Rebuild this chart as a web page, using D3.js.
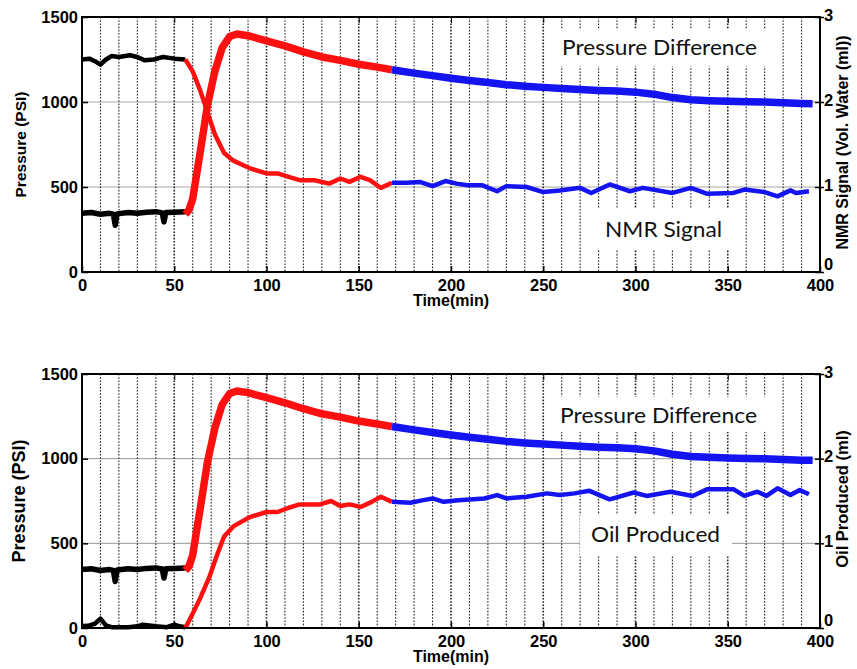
<!DOCTYPE html>
<html>
<head>
<meta charset="utf-8">
<script src="https://cdn.jsdelivr.net/npm/d3@7/dist/d3.min.js"></script>
<style>
    body { margin: 0; background: #fff; }
    svg { display: block; }
</style>
</head>
<body>
<div id="chart"></div>
<script>
// ---- data ----
// pressure difference (PSI, left axis) - same trace in both panels
const pressureBefore = [[0, 345], [5, 350], [10, 340], [15, 345], [17, 340], [18, 275], [19, 342], [25, 350], [30, 345],
    [35, 352], [40, 355], [43.5, 348], [44.4, 295], [45.5, 350], [50, 352], [56, 355]];
const pressureFlood = [[56, 340], [58, 365], [60, 430], [64, 700], [68, 980], [72, 1180], [76, 1320], [80, 1385],
    [84, 1400], [90, 1390], [100, 1360], [110, 1330], [120, 1295], [130, 1265], [140, 1245], [150, 1222],
    [160, 1205], [168, 1190]];
const pressureAfter = [[168, 1190], [180, 1170], [190, 1155], [200, 1140], [210, 1127], [220, 1115], [230, 1102],
    [240, 1093], [250, 1086], [260, 1080], [270, 1073], [280, 1068], [290, 1064], [300, 1058], [310, 1046],
    [320, 1026], [330, 1013], [340, 1008], [350, 1004], [360, 1001], [370, 1000], [380, 995], [390, 991], [396, 990]];

// NMR signal (vol. water, ml, right axis of top panel)
const nmrBefore = [[0, 2.50], [4, 2.51], [7, 2.48], [10, 2.44], [13, 2.50], [16, 2.54], [20, 2.53], [26, 2.55],
    [30, 2.53], [34, 2.49], [39, 2.50], [44, 2.53], [50, 2.51], [56, 2.50]];
const nmrFlood = [[56, 2.50], [60, 2.36], [64, 2.14], [68, 1.88], [72, 1.62], [77, 1.40], [82, 1.31], [91, 1.22],
    [100, 1.16], [106, 1.16], [112, 1.12], [118, 1.08], [126, 1.08], [134, 1.04], [140, 1.10], [145, 1.06],
    [151, 1.12], [156, 1.08], [162, 0.99], [168, 1.05]];
const nmrAfter = [[168, 1.05], [176, 1.05], [183, 1.06], [190, 1.01], [197, 1.07], [203, 1.04], [209, 1.02],
    [217, 1.02], [225, 0.95], [230, 1.01], [241, 1.00], [250, 0.94], [259, 0.96], [270, 0.99], [276, 0.93],
    [286, 1.03], [297, 0.95], [304, 0.99], [320, 0.93], [330, 0.99], [339, 0.92], [353, 0.93], [359, 0.97],
    [370, 0.94], [377, 0.89], [384, 0.96], [387, 0.93], [394, 0.95]];

// oil produced (ml, right axis of bottom panel)
const oilBefore = [[0, 0.02], [4, 0.03], [7, 0.05], [10, 0.11], [13, 0.03], [16, 0.01], [25, 0.01], [30, 0.02],
    [33, 0.04], [40, 0.02], [46, 0.01], [50, 0.04], [53, 0.02], [56, 0.01]];
const oilFlood = [[56, 0.0], [60, 0.17], [64, 0.35], [69, 0.60], [73, 0.85], [77, 1.08], [82, 1.20], [91, 1.31],
    [100, 1.37], [106, 1.37], [112, 1.42], [118, 1.46], [129, 1.46], [135, 1.50], [140, 1.44], [145, 1.46],
    [151, 1.43], [157, 1.49], [162, 1.55], [168, 1.49]];
const oilAfter = [[168, 1.49], [178, 1.48], [185, 1.51], [190, 1.53], [196, 1.49], [204, 1.51], [212, 1.52],
    [218, 1.53], [225, 1.57], [230, 1.53], [241, 1.55], [252, 1.59], [259, 1.57], [267, 1.59], [275, 1.62],
    [286, 1.52], [299, 1.60], [306, 1.56], [319, 1.61], [331, 1.56], [339, 1.64], [353, 1.64], [359, 1.56],
    [366, 1.61], [371, 1.56], [377, 1.65], [384, 1.57], [389, 1.63], [394, 1.58]];

const timeTicks = [0, 50, 100, 150, 200, 250, 300, 350, 400];
const pressureTicks = [0, 500, 1000, 1500];
const rightTicks = [0, 1, 2, 3];

// ---- layout ----
const width = 857, height = 669;
const plotLeft = 82, plotRight = 820;
const segmentColors = {before: "#000000", flood: "#ff1010", after: "#1414f0"};
const boldFont = "'Liberation Sans', Arial, Helvetica, sans-serif";
const noteFont = "Lato, 'Open Sans', sans-serif";

const svg = d3.select('#chart')
    .append('svg')
    .attr('width', width)
    .attr('height', height);

const xScale = d3.scaleLinear()
    .domain([0, 400])
    .range([plotLeft, plotRight]);

const panels = [
    {
        top: 17, bottom: 272,
        leftLabelSize: 15.5, leftLabelX: 22,
        rightLabel: "NMR Signal (Vol. Water (ml))", rightLabelSize: 16,
        signal: [nmrBefore, nmrFlood, nmrAfter],
        notes: [
            {text: "Pressure Difference", t: 260.2, v: 1276, len: 195, pad: [15, 23, 26, 11]},
            {text: "NMR Signal", t: 283.5, v: 206, len: 117, pad: [22, 22, 28, 12]}
        ]
    },
    {
        top: 374, bottom: 628,
        leftLabelSize: 18, leftLabelX: 20,
        rightLabel: "Oil Produced (ml)", rightLabelSize: 16.5,
        signal: [oilBefore, oilFlood, oilAfter],
        notes: [
            {text: "Pressure Difference", t: 259.1, v: 1211, len: 197, pad: [15, 23, 26, 9]},
            {text: "Oil Produced", t: 275.9, v: 508, len: 129, pad: [11, 12, 27, 13]}
        ]
    }
];

panels.forEach(drawPanel);

function drawPanel(p) {
    const g = svg.append("g");

    const yLeft = d3.scaleLinear()
        .domain([0, 1500])
        .range([p.bottom, p.top]);

    const yRight = d3.scaleLinear()
        .domain([0, 3])
        .range([p.bottom, p.top]);

    // horizontal grid (gray)
    g.append("g")
        .selectAll("line")
        .data([500, 1000])
        .enter().append("line")
        .attr("x1", plotLeft)
        .attr("x2", plotRight)
        .attr("y1", d => yLeft(d))
        .attr("y2", d => yLeft(d))
        .style("stroke", "#a8a8a8")
        .style("stroke-width", 1.2);

    // vertical dotted grid every 10 min
    g.append("g")
        .selectAll("line")
        .data(d3.range(10, 400, 10))
        .enter().append("line")
        .attr("x1", d => xScale(d))
        .attr("x2", d => xScale(d))
        .attr("y1", p.top)
        .attr("y2", p.bottom)
        .style("stroke", "#222")
        .style("stroke-width", d => d % 50 === 0 ? 1.6 : 1.1)
        .style("stroke-dasharray", "1.6,1.6");

    // annotation boxes hide the grid behind the text
    p.notes.forEach(n => {
        const tx = xScale(n.t), ty = yLeft(n.v);
        g.append("rect")
            .attr("x", tx - n.pad[0])
            .attr("y", ty - n.pad[2])
            .attr("width", n.len + n.pad[0] + n.pad[1])
            .attr("height", n.pad[2] + n.pad[3])
            .style("fill", "white");
        g.append("text")
            .attr("x", tx)
            .attr("y", ty)
            .attr("textLength", n.len)
            .attr("lengthAdjust", "spacingAndGlyphs")
            .text(n.text)
            .style("font-family", noteFont)
            .style("font-size", "21px")
            .style("fill", "#111");
    });

    const pressureLine = d3.line()
        .x(d => xScale(d[0]))
        .y(d => yLeft(d[1]));

    const signalLine = d3.line()
        .x(d => xScale(d[0]))
        .y(d => yRight(d[1]));

    const keys = ["before", "flood", "after"];

    // pressure difference trace (thick, noisy band)
    [pressureBefore, pressureFlood, pressureAfter].forEach((seg, i) => {
        g.append("path")
            .datum(seg)
            .attr("d", pressureLine)
            .style("fill", "none")
            .style("stroke", segmentColors[keys[i]])
            .style("stroke-width", i === 0 ? 5.5 : 7.5)
            .style("stroke-linejoin", "round");
    });

    // NMR / oil trace
    p.signal.forEach((seg, i) => {
        g.append("path")
            .datum(seg)
            .attr("d", signalLine)
            .style("fill", "none")
            .style("stroke", segmentColors[keys[i]])
            .style("stroke-width", 4.5)
            .style("stroke-linejoin", "round");
    });

    // frame
    g.append("rect")
        .attr("x", plotLeft)
        .attr("y", p.top)
        .attr("width", plotRight - plotLeft)
        .attr("height", p.bottom - p.top)
        .style("fill", "none")
        .style("stroke", "#000")
        .style("stroke-width", 2);

    // axes
    const xAxis = g.append("g")
        .attr("transform", "translate(0," + p.bottom + ")")
        .call(d3.axisBottom(xScale)
            .tickValues(timeTicks)
            .tickFormat(d3.format("d"))
            .tickSize(-6)
            .tickPadding(7)
        );

    g.append("g")
        .attr("transform", "translate(0," + p.top + ")")
        .call(d3.axisTop(xScale)
            .tickValues(timeTicks)
            .tickSize(-6)
            .tickFormat("")
        );

    const leftAxis = g.append("g")
        .attr("transform", "translate(" + plotLeft + ",0)")
        .call(d3.axisLeft(yLeft)
            .tickValues(pressureTicks)
            .tickFormat(d3.format("d"))
            .tickSize(-6)
            .tickPadding(4)
        );

    const rightAxis = g.append("g")
        .attr("transform", "translate(" + plotRight + ",0)")
        .call(d3.axisRight(yRight)
            .tickValues(rightTicks)
            .tickFormat(d3.format("d"))
            .tickSize(4)
            .tickPadding(0)
        );
    rightAxis.selectAll(".tick line").attr("x1", -5);
    rightAxis.selectAll(".tick text").attr("dy", d => d === 0 ? "-0.15em" : "0.2em");

    [xAxis, leftAxis, rightAxis].forEach(a => {
        a.selectAll("text")
            .style("fill", "#000")
            .style("font-family", boldFont)
            .style("font-size", "16.5px")
            .style("font-weight", "bold");
        a.selectAll(".tick line").style("stroke", "#000").style("stroke-width", 1.5);
    });
    g.selectAll(".domain").remove();

    // axis titles
    g.append("text")
        .attr("transform", "translate(" + p.leftLabelX + "," + ((p.top + p.bottom) / 2) + ") rotate(-90)")
        .attr("text-anchor", "middle")
        .attr("dominant-baseline", "middle")
        .text("Pressure (PSI)")
        .style("font-family", boldFont)
        .style("font-weight", "bold")
        .style("font-size", p.leftLabelSize + "px");

    g.append("text")
        .attr("transform", "translate(844," + ((p.top + p.bottom) / 2 - 2) + ") rotate(-90)")
        .attr("text-anchor", "middle")
        .attr("dominant-baseline", "middle")
        .text(p.rightLabel)
        .style("font-family", boldFont)
        .style("font-weight", "bold")
        .style("font-size", p.rightLabelSize + "px");

    g.append("text")
        .attr("x", xScale(200))
        .attr("y", p.bottom + 34)
        .attr("text-anchor", "middle")
        .text("Time(min)")
        .style("font-family", boldFont)
        .style("font-weight", "bold")
        .style("font-size", "16px");
}
</script>
</body>
</html>
